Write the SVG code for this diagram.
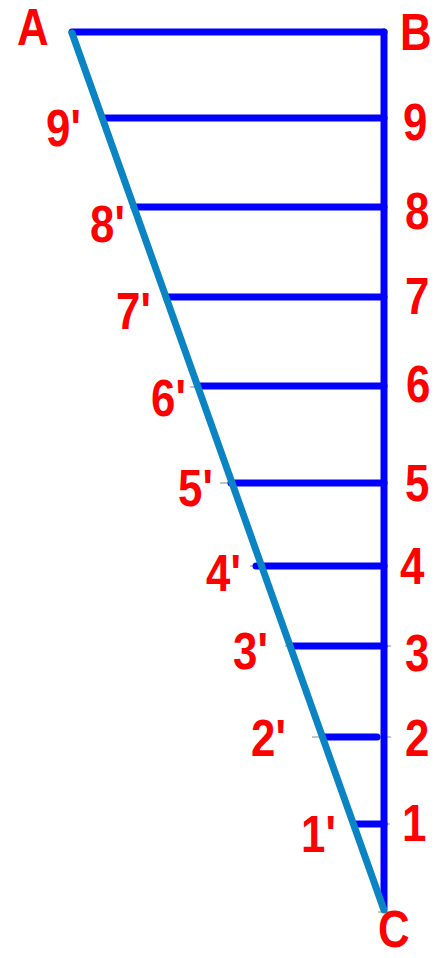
<svg xmlns="http://www.w3.org/2000/svg" width="442" height="958" viewBox="0 0 442 958">
<style>
.b{stroke:#0000ff;stroke-width:7;stroke-linecap:round;fill:none}
.d{stroke:#0a84c2;stroke-width:7;stroke-linecap:round;fill:none}
.t{stroke:#8a8a8a;stroke-width:1;fill:none}
text{font-family:"Liberation Sans",Arial,sans-serif;font-weight:bold;font-size:51px;fill:#ff0000}
</style>
<rect width="442" height="958" fill="#ffffff"/>
<g id="ticks">
<line class="t" x1="190" y1="387" x2="198" y2="387"/>
<line class="t" x1="220" y1="483" x2="230" y2="483"/>
<line class="t" x1="250" y1="566" x2="256" y2="566"/>
<line class="t" x1="285" y1="646" x2="292" y2="646"/>
<line class="t" x1="312" y1="737" x2="323" y2="737"/>
<line class="t" x1="384" y1="646" x2="391" y2="646"/>
<line class="t" x1="377" y1="737" x2="391" y2="737"/>
<line class="t" x1="384" y1="824" x2="390" y2="824"/>
<line class="t" x1="378" y1="912" x2="392" y2="912"/>
</g>
<g id="connectors">
<line class="b" x1="72" y1="32" x2="384" y2="32"/>
<line class="b" x1="384" y1="32" x2="384" y2="908"/>
<line class="b" x1="103" y1="118" x2="384" y2="118"/>
<line class="b" x1="134" y1="207" x2="384" y2="207"/>
<line class="b" x1="167" y1="297" x2="384" y2="297"/>
<line class="b" x1="198" y1="386" x2="384" y2="386"/>
<line class="b" x1="231" y1="483" x2="384" y2="483"/>
<line class="b" x1="256" y1="566" x2="384" y2="566"/>
<line class="b" x1="292" y1="646" x2="384" y2="646"/>
<line class="b" x1="323" y1="737" x2="377" y2="737"/>
<line class="b" x1="354" y1="824" x2="384" y2="824"/>
<line class="d" x1="72" y1="33" x2="384" y2="910"/>
</g>
<g id="labels">
<text transform="translate(17,45) scale(0.86,1)">A</text>
<text transform="translate(400,50) scale(0.86,1)">B</text>
<text transform="translate(46,146) scale(0.86,1)">9'</text>
<text transform="translate(403,140) scale(0.86,1)">9</text>
<text transform="translate(90,242) scale(0.86,1)">8'</text>
<text transform="translate(405,229) scale(0.86,1)">8</text>
<text transform="translate(116,329) scale(0.86,1)">7'</text>
<text transform="translate(405,314) scale(0.86,1)">7</text>
<text transform="translate(151,416) scale(0.86,1)">6'</text>
<text transform="translate(406,402) scale(0.86,1)">6</text>
<text transform="translate(178,506) scale(0.86,1)">5'</text>
<text transform="translate(405,501) scale(0.86,1)">5</text>
<text transform="translate(206,591) scale(0.86,1)">4'</text>
<text transform="translate(400,584) scale(0.86,1)">4</text>
<text transform="translate(233,669) scale(0.86,1)">3'</text>
<text transform="translate(405,671) scale(0.86,1)">3</text>
<text transform="translate(251,756) scale(0.86,1)">2'</text>
<text transform="translate(405,756) scale(0.86,1)">2</text>
<text transform="translate(301,852) scale(0.86,1)">1'</text>
<text transform="translate(402,841) scale(0.86,1)">1</text>
<text transform="translate(378,947) scale(0.86,1)">C</text>
</g>
</svg>
